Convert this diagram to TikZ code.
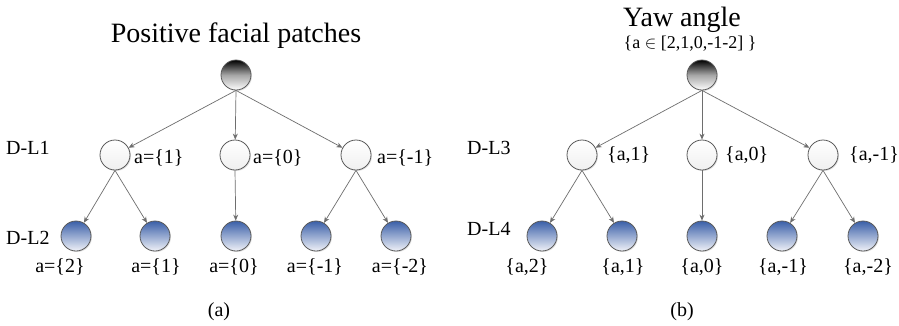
\documentclass[tikz,border=0pt]{standalone}
\usepackage{fontspec}
\setmainfont{Liberation Serif}
\usetikzlibrary{arrows.meta,shadows}
\definecolor{edgegray}{HTML}{6E6E6E}
\definecolor{bordergray}{HTML}{5A5A5A}
\definecolor{leafblue}{HTML}{3A5FA8}
\definecolor{leaflight}{HTML}{F0F2F8}
\tikzset{
  base/.style={circle, minimum size=30pt, inner sep=0pt, draw=bordergray, line width=0.8pt,
    drop shadow={opacity=0.25, shadow xshift=1pt, shadow yshift=-1pt}},
  rootnode/.style={base, top color=black, bottom color=white, middle color=gray!70},
  midnode/.style={base, top color=white, bottom color=gray!12},
  leafnode/.style={base, top color=leafblue, bottom color=leaflight},
  edge/.style={draw=edgegray, line width=0.7pt, -{Stealth[length=6pt,width=5pt]}},
  lbl/.style={font=\fontsize{20}{22}\selectfont, inner sep=0pt},
  lvl/.style={font=\fontsize{20}{22}\selectfont, inner sep=0pt, anchor=west},
  ttl/.style={font=\fontsize{28}{30}\selectfont, inner sep=0pt},
}
\begin{document}
\begin{tikzpicture}[x=1pt,y=-1pt]
\useasboundingbox[fill=white] (0,0) rectangle (899,325);
% ---------- (a) ----------
\node[ttl] (ta) at (236,36) {Positive facial patches};
\node[rootnode] (ra) at (236,75) {};
\node[midnode] (a1) at (115,155) {};
\node[midnode] (a2) at (235,155) {};
\node[midnode] (a3) at (356,155) {};
\node[leafnode] (b1) at (76,236) {};
\node[leafnode] (b2) at (155,236) {};
\node[leafnode] (b3) at (236,236) {};
\node[leafnode] (b4) at (316,236) {};
\node[leafnode] (b5) at (396,236) {};
\draw[edge] (ra.south) -- (a1);
\draw[edge] (ra.south) -- (a2);
\draw[edge] (ra.south) -- (a3);
\draw[edge] (a1.south) -- (b1);
\draw[edge] (a1.south) -- (b2);
\draw[edge] (a2.south) -- (b3);
\draw[edge] (a3.south) -- (b4);
\draw[edge] (a3.south) -- (b5);
\node[lbl, anchor=west] (la1) at (134,158) {a=\{1\}};
\node[lbl, anchor=west] (la2) at (253,158) {a=\{0\}};
\node[lbl, anchor=west] (la3) at (377,158) {a=\{-1\}};
\node[lbl] (lb1) at (60,267) {a=\{2\}};
\node[lbl] (lb2) at (156,267) {a=\{1\}};
\node[lbl] (lb3) at (234,267) {a=\{0\}};
\node[lbl] (lb4) at (315,267) {a=\{-1\}};
\node[lbl] (lb5) at (400,267) {a=\{-2\}};
\node[lvl] (dl1) at (6,148) {D-L1};
\node[lvl] (dl2) at (6,238) {D-L2};
\node[lbl] (capa) at (219,312) {(a)};
% ---------- (b) ----------
\node[ttl] (tb) at (682,20) {Yaw angle};
\node[font=\fontsize{18}{20}\selectfont, inner sep=0pt] (tb2) at (690,44) {\{a $\in$ [2,1,0,-1-2] \}};
\node[rootnode] (rb) at (702,75) {};
\node[midnode] (c1) at (582,155) {};
\node[midnode] (c2) at (702,155) {};
\node[midnode] (c3) at (823,155) {};
\node[leafnode] (d1) at (542,236) {};
\node[leafnode] (d2) at (622,236) {};
\node[leafnode] (d3) at (702,236) {};
\node[leafnode] (d4) at (782,236) {};
\node[leafnode] (d5) at (863,236) {};
\draw[edge] (rb.south) -- (c1);
\draw[edge] (rb.south) -- (c2);
\draw[edge] (rb.south) -- (c3);
\draw[edge] (c1.south) -- (d1);
\draw[edge] (c1.south) -- (d2);
\draw[edge] (c2.south) -- (d3);
\draw[edge] (c3.south) -- (d4);
\draw[edge] (c3.south) -- (d5);
\node[lbl, anchor=west] (lc1) at (607,155) {\{a,1\}};
\node[lbl, anchor=west] (lc2) at (725,155) {\{a,0\}};
\node[lbl, anchor=west] (lc3) at (849,155) {\{a,-1\}};
\node[lbl] (ld1) at (527,267) {\{a,2\}};
\node[lbl] (ld2) at (623,267) {\{a,1\}};
\node[lbl] (ld3) at (702,267) {\{a,0\}};
\node[lbl] (ld4) at (783,267) {\{a,-1\}};
\node[lbl] (ld5) at (868,267) {\{a,-2\}};
\node[lvl] (dl3) at (467,148) {D-L3};
\node[lvl] (dl4) at (467,229) {D-L4};
\node[lbl] (capb) at (682,312) {(b)};
\end{tikzpicture}
\end{document}
